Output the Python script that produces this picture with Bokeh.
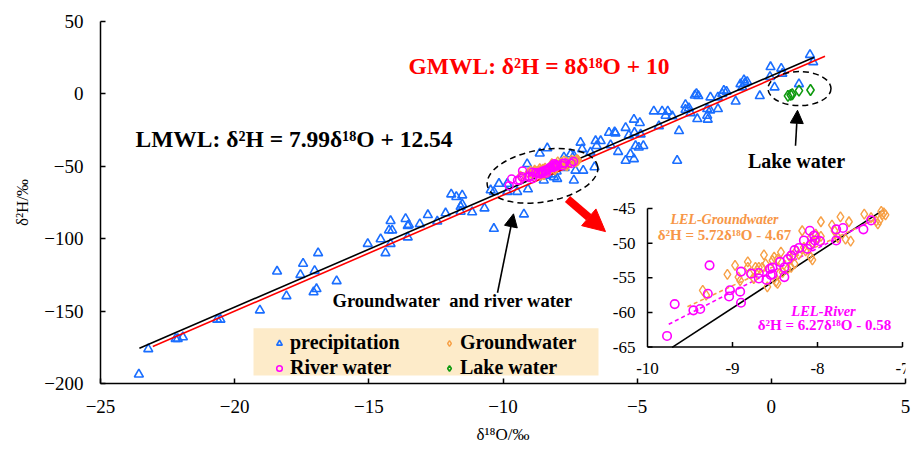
from bokeh.plotting import figure
from bokeh.models import (Range1d, FixedTicker, Legend, LegendItem, Label, Arrow,
                          NormalHead, BoxAnnotation)
from bokeh.core.properties import value
from bokeh.embed import file_html
from bokeh.resources import INLINE

FONT = "Liberation Serif"

# ---------------- data ----------------
precip_x = [-23.57, -23.22, -22.20, -22.12, -21.93, -20.65, -20.53, -19.06, -18.42, -18.07,
            -17.45, -17.55, -17.02, -16.89, -16.95, -17.06, -16.20, -15.04, -14.56, -14.38,
            -14.19, -14.25, -14.13, -14.19, -13.63, -13.55, -13.55, -13.51, -13.10, -12.80,
            -12.45, -12.14, -11.93, -11.74, -11.52, -11.58, -11.52, -11.58, -11.15, -10.69,
            -10.34, -10.15, -10.46, -10.34, -9.84, -9.47, -9.22, -9.07, -8.63, -8.35,
            -8.48, -7.48, -7.11, -7.05, -6.74, -7.30, -7.01, -6.59, -8.10, -6.55,
            -6.36, -6.51, -6.05, -5.84, -5.71, -5.43, -5.31, -5.99, -5.81, -5.12,
            -4.90, -5.10, -4.87, -5.43, -5.25, -5.12, -5.06, -4.94, -4.77, -4.38,
            -4.07, -3.86, -3.94, -3.69, -4.19, -3.44, -3.51, -3.20, -3.07, -3.01,
            -3.20, -2.79, -2.72, -2.85, -2.76, -2.39, -2.28, -2.27, -2.39, -1.99,
            -2.37, -1.99, -1.77, -1.67, -1.83, -1.33, -1.15, -1.02, -0.90, -1.08,
            -0.99, -0.43, -0.03, 0.37, 0.41, -0.05, 0.12, 1.03, 1.44, 1.56,
            -9.84, -7.98, -7.36, -7.73, -7.36, -9.10, -8.20, -8.00, -7.70, -8.40]
precip_y = [-193.7, -176.2, -169.1, -169.1, -168.0, -155.8, -155.8, -149.4, -122.6, -139.6,
            -117.2, -124.9, -122.2, -109.9, -134.7, -136.9, -129.2, -103.5, -100.3, -109.9,
            -87.7, -94.2, -94.2, -103.5, -86.3, -91.1, -99.0, -90.4, -89.9, -83.6,
            -88.1, -82.4, -69.3, -71.1, -70.0, -77.9, -76.3, -81.3, -81.7, -79.0,
            -93.1, -62.0, -66.5, -67.6, -67.6, -67.6, -83.1, -65.8, -41.1, -37.5,
            -59.7, -41.6, -33.6, -38.1, -40.4, -52.9, -52.9, -50.6, -57.4, -32.5,
            -32.5, -35.9, -26.8, -26.4, -40.0, -23.4, -28.6, -35.4, -27.2, -17.7,
            -20.0, -26.8, -27.9, -46.1, -41.6, -45.0, -35.9, -37.0, -35.9, -12.0,
            -12.0, -12.0, -15.0, -15.4, -22.2, -25.6, -46.1, -7.5, -9.8, -13.2,
            -10.9, 0.0, -1.4, -1.0, -17.3, -10.4, -11.3, -2.3, -15.0, -10.4,
            -17.7, -2.3, 2.3, 1.6, 0.0, -5.2, 6.8, 9.5, 8.4, 4.6,
            7.3, -1.4, 18.6, 17.5, 14.1, 11.8, 4.6, 6.8, 27.0, 22.0,
            -62.0, -58.6, -59.7, -43.8, -42.7, -48.4, -55.5, -53.5, -51.0, -56.5]

river_x = [-9.77, -9.68, -9.27, -9.46, -9.38, -9.29, -9.04, -9.03, -8.91, -8.90,
           -8.90, -8.78, -8.69, -8.69, -8.60, -8.56, -8.55, -8.53, -8.53, -8.44,
           -8.39, -8.39, -8.35, -8.31, -8.27, -8.22, -8.16, -8.12, -8.09, -8.08,
           -8.04, -8.03, -7.97, -7.78, -7.78, -7.70, -7.46, -7.37]
river_y = [-63.4, -58.8, -53.2, -59.7, -59.5, -57.3, -57.7, -56.8, -57.0, -58.6,
           -54.1, -54.4, -54.3, -55.1, -55.3, -53.7, -54.6, -54.5, -53.5, -52.7,
           -53.5, -54.9, -52.3, -51.8, -51.0, -50.7, -49.6, -50.8, -48.2, -50.2,
           -48.9, -49.6, -49.7, -48.0, -49.6, -47.8, -48.0, -46.7]

ground_x = [-9.35, -9.31, -9.06, -8.97, -8.93, -8.91, -8.82, -8.82, -8.80, -8.75,
            -8.73, -8.69, -8.71, -8.63, -8.61, -8.65, -8.59, -8.53, -8.51, -8.47,
            -8.49, -8.47, -8.45, -8.41, -8.43, -8.35, -8.31, -8.27, -8.33, -8.29,
            -8.25, -8.22, -8.16, -8.14, -8.18, -8.08, -8.06, -8.02, -8.00, -7.96,
            -8.08, -8.06, -7.96, -7.83, -7.73, -7.63, -7.80, -7.76, -7.67, -7.61,
            -7.45, -7.37, -7.31, -7.29, -7.25, -7.22, -7.20, -7.24, -7.27]
ground_y = [-56.8, -57.5, -54.5, -53.2, -54.9, -55.4, -52.7, -53.5, -54.4, -55.1,
            -53.5, -53.5, -53.9, -51.7, -53.0, -53.5, -56.3, -52.5, -52.0, -52.3,
            -55.6, -55.8, -54.4, -54.2, -51.3, -53.7, -53.5, -53.0, -51.9, -51.8,
            -51.1, -51.6, -50.6, -51.1, -48.2, -49.2, -49.9, -48.7, -49.2, -49.0,
            -52.0, -52.4, -46.9, -47.4, -46.2, -46.9, -48.2, -49.2, -49.4, -49.7,
            -45.8, -46.3, -46.8, -47.2, -45.4, -45.6, -45.9, -45.9, -46.7]

lake_x = [0.62, 0.72, 0.78, 1.03, 1.46]
lake_y = [-1.4, -0.7, -0.2, 2.3, 2.7]

# regression / meteoric lines: (slope, intercept) and their x extents
lmwl = (7.99, 12.54)
gmwl = (8.0, 10.0)
lel_ground = (5.72, -4.67)
lel_river = (6.27, -0.58)
lmwl_main_x = [-23.55, 1.6]
gmwl_main_x = [-23.05, 2.0]
lmwl_inset_x = [-9.71, -7.22]
lel_ground_x = [-9.53, -7.29]
lel_river_x = [-9.75, -7.33]

x_ticks = [-25, -20, -15, -10, -5, 0, 5]
y_ticks = [-200, -150, -100, -50, 0, 50]
inset_x_ticks = [-10, -9, -8, -7]
inset_y_ticks = [-65, -60, -55, -50, -45]

X_RANGE = (-25, 5)
Y_RANGE = (-200, 50)
INSET_X = (-10, -7)
INSET_Y = (-65, -45)

C_PRECIP = "#1A6EFF"
C_GROUND = "#F7A046"
C_RIVER = "#FF00FF"
C_LAKE = "#109A10"
C_GROUND_TXT = "#F79646"

# ---------------- layout geometry (page pixels) ----------------
W, H = 912, 446
FX0, FX1 = 100, 905
FY0, FY1 = 21, 388
BL, BR, BT, BB = FX0, W - FX1, FY0, H - FY1


def dx(px):
    return X_RANGE[0] + (px - FX0) * (X_RANGE[1] - X_RANGE[0]) / (FX1 - FX0)


def dy(py):
    return Y_RANGE[1] - (py - FY0) * (Y_RANGE[1] - Y_RANGE[0]) / (FY1 - FY0)


# inset box in page pixels
IN_L, IN_R, IN_T, IN_B = 647, 902, 210.7, 351
ppx = (IN_R - IN_L) / (INSET_X[1] - INSET_X[0])
ppy = (IN_B - IN_T) / (INSET_Y[1] - INSET_Y[0])
ix_start = INSET_X[0] - (IN_L - FX0) / ppx
ix_end = INSET_X[1] + (FX1 - IN_R) / ppx
iy_end = INSET_Y[1] + (IN_T - FY0) / ppy
iy_start = INSET_Y[0] - (FY1 - IN_B) / ppy

p = figure(width=W, height=H, x_range=Range1d(*X_RANGE), y_range=Range1d(*Y_RANGE),
           output_backend="svg", toolbar_location=None,
           min_border_left=BL, min_border_right=BR, min_border_top=BT, min_border_bottom=BB)
p.extra_x_ranges = {"ix": Range1d(ix_start, ix_end)}
p.extra_y_ranges = {"iy": Range1d(iy_start, iy_end)}

p.outline_line_color = None
p.grid.visible = False
p.background_fill_color = "white"

for ax in (p.xaxis[0], p.yaxis[0]):
    ax.axis_line_width = 1.5
    ax.axis_line_color = "black"
    ax.major_tick_line_width = 1.5
    ax.major_tick_line_color = "black"
    ax.major_tick_in = 5
    ax.major_tick_out = 0
    ax.minor_tick_line_color = None
    ax.major_label_text_font = FONT
    ax.major_label_text_font_size = "19px"
    ax.major_label_text_color = "black"
    ax.axis_label_text_font = FONT
    ax.axis_label_text_font_size = "17px"
    ax.axis_label_text_font_style = "normal"
    ax.axis_label_text_color = "black"

p.xaxis.ticker = FixedTicker(ticks=x_ticks)
p.yaxis.ticker = FixedTicker(ticks=y_ticks)
p.xaxis.axis_label = "δ¹⁸O/‰"
p.yaxis.axis_label = "δ²H/‰"
p.xaxis.major_label_standoff = 16
p.xaxis.axis_label_standoff = 9
p.yaxis.major_label_standoff = 17
p.yaxis.axis_label_standoff = 9

# ---------------- main panel ----------------
r_p = p.scatter(precip_x, precip_y, marker="triangle", size=9, line_color=C_PRECIP,
                line_width=1.6, fill_color=None)
p.line(lmwl_main_x, [lmwl[0] * x + lmwl[1] for x in lmwl_main_x], line_color="black", line_width=1.6)
p.line(gmwl_main_x, [gmwl[0] * x + gmwl[1] for x in gmwl_main_x], line_color="red", line_width=1.6)
r_g = p.scatter(ground_x, ground_y, marker="diamond", size=10,
                line_color=C_GROUND, line_width=1.4, fill_color=None)
r_r = p.scatter(river_x, river_y, marker="circle", size=8, line_color=C_RIVER,
                line_width=1.5, fill_color=None)
r_l = p.scatter(lake_x, lake_y, marker="diamond", size=11,
                line_color=C_LAKE, line_width=1.6, fill_color=None)

# dashed ellipses
p.ellipse(x=[dx(542)], y=[dy(177.5)], width=[112], height=[52], angle=[0.17],
          width_units="screen", height_units="screen",
          fill_color=None, line_color="black", line_width=1.5, line_dash="6 4")
p.ellipse(x=[dx(799)], y=[dy(89)], width=[63], height=[34],
          width_units="screen", height_units="screen",
          fill_color=None, line_color="black", line_width=1.5, line_dash="6 4")

# arrows
p.add_layout(Arrow(end=NormalHead(size=13, fill_color="black", line_color="black"),
                   x_start=dx(497), y_start=dy(296), x_end=dx(513), y_end=dy(216),
                   line_color="black", line_width=1.6))
p.add_layout(Arrow(end=NormalHead(size=13, fill_color="black", line_color="black"),
                   x_start=dx(795), y_start=dy(147), x_end=dx(797), y_end=dy(111),
                   line_color="black", line_width=1.6))
p.add_layout(Arrow(end=NormalHead(size=22, fill_color="red", line_color="red"),
                   x_start=dx(567), y_start=dy(201), x_end=dx(605), y_end=dy(234),
                   line_color="red", line_width=8))

# labels
def lab(px, py, text, size, color="black", style="bold", align="left"):
    p.add_layout(Label(x=dx(px), y=dy(py), text=text, text_font=FONT,
                       text_font_size=size, text_font_style=style, text_color=color,
                       text_align=align, text_baseline="middle"))

lab(408, 66, "GMWL: δ²H = 8δ¹⁸O + 10", "23.5px", color="red")
lab(135, 140, "LMWL: δ²H = 7.99δ¹⁸O + 12.54", "23.5px")
lab(332, 304, "Groundwater\u00a0 and river water", "18.5px")
lab(796, 162, "Lake water", "20px", align="center")

# ---------------- inset panel ----------------
IX = dict(x_range_name="ix", y_range_name="iy")
tick_dx = 5 / ppx
tick_dy = 5 / ppy
p.segment(x0=[INSET_X[0], INSET_X[0]], y0=[INSET_Y[0], INSET_Y[0]],
          x1=[INSET_X[0], INSET_X[1]], y1=[INSET_Y[1], INSET_Y[0]],
          line_color="black", line_width=1.5, **IX)
p.segment(x0=[INSET_X[0]] * len(inset_y_ticks), y0=inset_y_ticks,
          x1=[INSET_X[0] + tick_dx] * len(inset_y_ticks), y1=inset_y_ticks,
          line_color="black", line_width=1.5, **IX)
p.segment(x0=inset_x_ticks[1:], y0=[INSET_Y[0]] * 3,
          x1=inset_x_ticks[1:], y1=[INSET_Y[0] + tick_dy] * 3,
          line_color="black", line_width=1.5, **IX)
p.text(x=[INSET_X[0]] * len(inset_y_ticks), y=inset_y_ticks,
       text=[str(t) for t in inset_y_ticks], x_offset=-12, text_align="right",
       text_baseline="middle", text_font=value(FONT), text_font_size="17px",
       text_color="black", **IX)
p.text(x=inset_x_ticks, y=[INSET_Y[0]] * len(inset_x_ticks),
       text=[str(t) for t in inset_x_ticks], y_offset=21, text_align="center",
       text_baseline="middle", text_font=value(FONT), text_font_size="17px",
       text_color="black", **IX)

p.line(lmwl_inset_x, [lmwl[0] * x + lmwl[1] for x in lmwl_inset_x],
       line_color="black", line_width=1.6, **IX)
p.line(lel_ground_x, [lel_ground[0] * x + lel_ground[1] for x in lel_ground_x],
       line_color=C_GROUND, line_width=1.6, line_dash="4 3", **IX)
p.line(lel_river_x, [lel_river[0] * x + lel_river[1] for x in lel_river_x],
       line_color=C_RIVER, line_width=1.6, line_dash="4 3", **IX)
p.scatter(ground_x, ground_y, marker="diamond", size=10,
          line_color=C_GROUND, line_width=1.4, fill_color=None, **IX)
p.scatter(river_x, river_y, marker="circle", size=8.5, line_color=C_RIVER,
          line_width=1.6, fill_color=None, **IX)

lab(724, 222, "LEL-Groundwater", "14px", color=C_GROUND_TXT, style="bold italic", align="center")
lab(724, 237, "δ²H = 5.72δ¹⁸O - 4.67", "15px", color=C_GROUND_TXT, align="center")
lab(823, 315, "LEL-River", "14.5px", color=C_RIVER, style="bold italic", align="center")
lab(824, 329, "δ²H = 6.27δ¹⁸O - 0.58", "15px", color=C_RIVER, align="center")

# ---------------- legend ----------------
p.add_layout(BoxAnnotation(left=dx(253), right=dx(598), top=dy(332), bottom=dy(380),
                           fill_color="#FDEBC9", fill_alpha=1, line_color=None))
legend = Legend(items=[LegendItem(label="precipitation", renderers=[r_p]),
                       LegendItem(label="Groundwater", renderers=[r_g]),
                       LegendItem(label="River water", renderers=[r_r]),
                       LegendItem(label="Lake water", renderers=[r_l])],
                orientation="horizontal", ncols=2, location=(172, 4),
                label_text_font=FONT, label_text_font_style="bold",
                label_text_font_size="20px", label_text_color="black",
                label_height=20, glyph_height=20, glyph_width=14, label_standoff=4,
                label_width=150, spacing=2, padding=0, margin=0,
                background_fill_alpha=0, border_line_color=None)
p.add_layout(legend)

open("out.html", "w").write(file_html(p, INLINE))
